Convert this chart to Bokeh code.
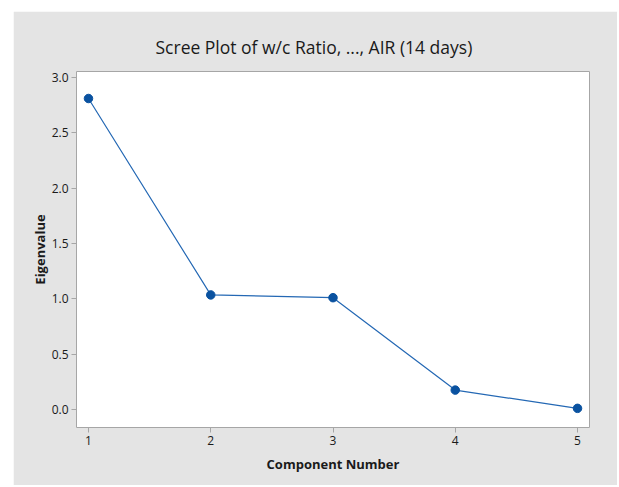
from bokeh.plotting import figure
from bokeh.models import Range1d, FixedTicker
from bokeh.embed import file_html
from bokeh.resources import INLINE

# Data
components = [1, 2, 3, 4, 5]
eigenvalues = [2.81, 1.035, 1.01, 0.175, 0.01]
x_ticks = [1, 2, 3, 4, 5]
x_tick_labels = ["1", "2", "3", "4", "5"]
y_ticks = [0.0, 0.5, 1.0, 1.5, 2.0, 2.5, 3.0]
y_tick_labels = ["0.0", "0.5", "1.0", "1.5", "2.0", "2.5", "3.0"]
title_text = "Scree Plot of w/c Ratio, ..., AIR (14 days)"
x_label = "Component Number"
y_label = "Eigenvalue"

FONT = "Open Sans"
BG = "#e4e4e4"

p = figure(
    width=604, height=474,
    x_range=Range1d(0.902, 5.098), y_range=Range1d(-0.163, 3.054),
    output_backend="svg", toolbar_location=None,
    min_border_left=63, min_border_right=28, min_border_top=60, min_border_bottom=58,
    background_fill_color="white", border_fill_color=BG,
    outline_line_color="#a6a6a6", outline_line_width=1,
    title=title_text,
)
p.margin = (11, 0, 0, 13)

p.title.text_font = FONT
p.title.text_font_size = "17.5px"
p.title.text_font_style = "normal"
p.title.text_color = "#1a1a1a"
p.title.align = "left"
p.title.offset = 79
p.title.standoff = 25

p.grid.visible = False

for ax in (p.xaxis[0], p.yaxis[0]):
    ax.axis_line_color = None
    ax.major_tick_line_color = "#a6a6a6"
    ax.major_tick_out = 5
    ax.major_tick_in = 0
    ax.minor_tick_line_color = None
    ax.major_label_text_font = FONT
    ax.major_label_text_font_size = "12px"
    ax.major_label_text_color = "#1a1a1a"
    ax.axis_label_text_font = FONT
    ax.axis_label_text_font_size = "13px"
    ax.axis_label_text_font_style = "bold"
    ax.axis_label_text_color = "#1a1a1a"
    ax.major_label_standoff = 3

p.xaxis.ticker = FixedTicker(ticks=x_ticks)
p.xaxis.major_label_overrides = {t: l for t, l in zip(x_ticks, x_tick_labels)}
p.yaxis.ticker = FixedTicker(ticks=y_ticks)
p.yaxis.major_label_overrides = {t: l for t, l in zip(y_ticks, y_tick_labels)}
p.xaxis.axis_label = x_label
p.yaxis.axis_label = y_label
p.xaxis.axis_label_standoff = 7
p.yaxis.axis_label_standoff = 0

p.line(components, eigenvalues, line_color="#2468b4", line_width=1.2)
p.scatter(components, eigenvalues, size=8.5, fill_color="#0a52a0", line_color="#0a52a0")

open("out.html", "w").write(file_html(p, INLINE))
